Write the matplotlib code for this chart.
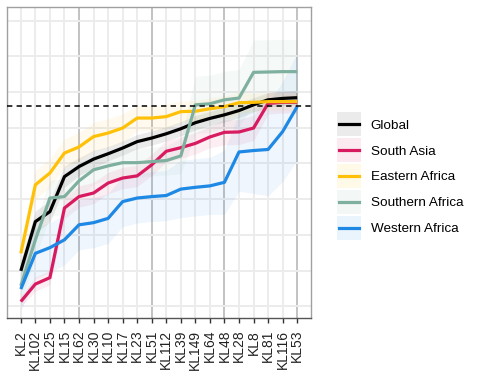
import numpy as np
import matplotlib
matplotlib.use('Agg')
import matplotlib.pyplot as plt
from matplotlib.patches import Rectangle
from matplotlib.lines import Line2D

plt.rcParams['font.family'] = ['Liberation Sans', 'DejaVu Sans']

labels = ['KL2', 'KL102', 'KL25', 'KL15', 'KL62', 'KL30', 'KL10', 'KL17', 'KL23', 'KL51',
          'KL112', 'KL39', 'KL149', 'KL64', 'KL48', 'KL28', 'KL8', 'KL81', 'KL116', 'KL53']

glob = [0.099, 0.237, 0.265, 0.363, 0.391, 0.412, 0.427, 0.443, 0.461, 0.471,
        0.483, 0.497, 0.514, 0.526, 0.536, 0.548, 0.564, 0.578, 0.582, 0.584]
south_asia = [0.013, 0.062, 0.080, 0.275, 0.307, 0.317, 0.345, 0.359, 0.365, 0.396,
              0.434, 0.444, 0.456, 0.474, 0.487, 0.488, 0.499, 0.568, 0.571, 0.571]
eastern = [0.148, 0.340, 0.373, 0.429, 0.446, 0.475, 0.485, 0.499, 0.527, 0.527,
           0.531, 0.545, 0.546, 0.553, 0.559, 0.570, 0.571, 0.573, 0.573, 0.573]
southern = [0.057, 0.186, 0.303, 0.307, 0.351, 0.382, 0.393, 0.402, 0.402, 0.405,
            0.408, 0.421, 0.564, 0.567, 0.578, 0.583, 0.655, 0.656, 0.657, 0.657]
western = [0.048, 0.148, 0.164, 0.186, 0.228, 0.234, 0.246, 0.293, 0.303, 0.307,
           0.310, 0.328, 0.333, 0.337, 0.347, 0.432, 0.436, 0.439, 0.489, 0.559]

# ribbon half-widths
glob_err = [0.03, 0.03, 0.03, 0.03, 0.025, 0.025, 0.02, 0.02, 0.02, 0.02,
            0.02, 0.02, 0.02, 0.02, 0.02, 0.02, 0.02, 0.02, 0.02, 0.02]
south_asia_err = [0.015, 0.02, 0.02, 0.03, 0.03, 0.03, 0.03, 0.03, 0.03, 0.03,
                  0.03, 0.03, 0.03, 0.03, 0.035, 0.035, 0.035, 0.03, 0.03, 0.03]
eastern_err = [0.03, 0.04, 0.04, 0.04, 0.04, 0.04, 0.04, 0.04, 0.035, 0.035,
               0.035, 0.03, 0.03, 0.03, 0.03, 0.03, 0.025, 0.025, 0.025, 0.025]
southern_err = [0.04, 0.05, 0.05, 0.05, 0.05, 0.04, 0.04, 0.04, 0.04, 0.04,
                0.04, 0.05, 0.08, 0.08, 0.08, 0.08, 0.09, 0.09, 0.09, 0.09]
western_err = [0.06, 0.07, 0.07, 0.07, 0.07, 0.07, 0.07, 0.07, 0.07, 0.07,
               0.07, 0.08, 0.08, 0.08, 0.09, 0.11, 0.12, 0.13, 0.14, 0.15]

threshold = 0.561

series = [
    ('Global', glob, glob_err, '#000000'),
    ('South Asia', south_asia, south_asia_err, '#D81B60'),
    ('Eastern Africa', eastern, eastern_err, '#FFC107'),
    ('Southern Africa', southern, southern_err, '#7FB09F'),
    ('Western Africa', western, western_err, '#1E88E5'),
]


class KeyHandler:
    """ggplot-like legend key: shaded square with a line through it"""
    def __init__(self, color, alpha):
        self.color = color
        self.alpha = alpha

    def legend_artist(self, legend, orig_handle, fontsize, handlebox):
        x0, y0 = -handlebox.xdescent, -handlebox.ydescent
        w, h = handlebox.width, handlebox.height
        box = 17.3
        cy = y0 + h / 2
        r = Rectangle((x0, cy - box / 2), w, box, facecolor=self.color,
                      alpha=self.alpha, edgecolor='none',
                      transform=handlebox.get_transform())
        ln = Line2D([x0 + 1.4, x0 + w - 1.4], [cy, cy], color=self.color, lw=2.3,
                    transform=handlebox.get_transform())
        handlebox.add_artist(r)
        handlebox.add_artist(ln)
        return r


fig = plt.figure(figsize=(4.82, 3.78), dpi=100)
ax = fig.add_axes([7 / 482, 1 - 318 / 378, 304 / 482, 311 / 378])

x = np.arange(len(labels))

# grid
for i in x:
    major = (i % 5 == 4)
    ax.axvline(i, color='#bdbdbd' if major else '#ececec', lw=1.3 if major else 1.4, zorder=0)
for yv in np.arange(0, 0.81, 0.1):
    ax.axhline(yv, color='#ececec', lw=1.4, zorder=0)

for name, vals, err, col in series:
    v = np.array(vals)
    e = np.array(err)
    a = 0.08 if name == 'Global' else 0.07
    ax.fill_between(x, v - e, v + e, color=col, alpha=a, lw=0, zorder=1)

handles = []
handler_map = {}
for name, vals, err, col in series:
    h, = ax.plot(x, vals, color=col, lw=2.3, solid_capstyle='butt', zorder=3)
    handles.append(h)
    handler_map[h] = KeyHandler(col, 0.08 if name == 'Global' else 0.09)

ax.axhline(threshold, color='black', lw=1.1, linestyle=(0, (3.5, 2.8)), zorder=4)

ax.set_xlim(-0.95, 19.95)
ax.set_ylim(-0.033, 0.838)
ax.set_xticks(x)
ax.set_xticklabels(labels, rotation=90, fontsize=10, color='#222222')
ax.set_yticks([])
ax.tick_params(axis='x', length=3.5, width=1, color='#333333', pad=5)
for s in ['left', 'right', 'top']:
    ax.spines[s].set_color('#a0a0a0')
    ax.spines[s].set_linewidth(1)
ax.spines['bottom'].set_color('#555555')
ax.spines['bottom'].set_linewidth(1)

fig.legend(handles, [s[0] for s in series], loc='center left',
           bbox_to_anchor=(337 / 482, 1 - 176 / 378), frameon=False,
           fontsize=9.7, handlelength=1.75, handleheight=1.3,
           labelspacing=0.82, handletextpad=0.75, borderaxespad=0,
           borderpad=0, handler_map=handler_map)

fig.savefig('out.png', dpi=100)
